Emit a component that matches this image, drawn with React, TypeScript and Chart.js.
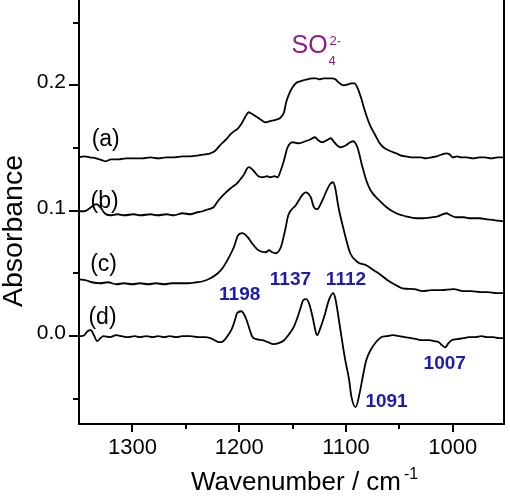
import { useEffect, useRef } from "react";
import { Chart, registerables } from "chart.js";

Chart.register(...registerables);

const FONT = "'Liberation Sans', Arial, sans-serif";

// Spectrum (a): wavenumber (cm-1) and absorbance
const wnA = [1350, 1345, 1340, 1334, 1328, 1325, 1320, 1313, 1306, 1298, 1291, 1283, 1276, 1268, 1261, 1253, 1246, 1238, 1232, 1227, 1223, 1218, 1212, 1208, 1205, 1201, 1197, 1194, 1191, 1189, 1186, 1183, 1179, 1175, 1172, 1168, 1164, 1161, 1158, 1156, 1153, 1150, 1147, 1143, 1140, 1136, 1132, 1128, 1125, 1121, 1117, 1113, 1110, 1106, 1102, 1098, 1095, 1092, 1089, 1086, 1083, 1080, 1077, 1073, 1069, 1065, 1062, 1058, 1053, 1049, 1044, 1039, 1034, 1030, 1025, 1020, 1015, 1010, 1006, 1003, 1000, 996, 992, 987, 981, 975, 970, 964, 958, 953, 950];
const absA = [0.1426, 0.1434, 0.1426, 0.1418, 0.1402, 0.1394, 0.141, 0.141, 0.1418, 0.1418, 0.1418, 0.1426, 0.1418, 0.1426, 0.1426, 0.1434, 0.1434, 0.1442, 0.145, 0.1458, 0.1474, 0.1522, 0.157, 0.161, 0.1633, 0.1657, 0.1705, 0.1753, 0.1785, 0.1777, 0.1761, 0.1745, 0.1721, 0.1705, 0.1713, 0.1721, 0.1729, 0.1745, 0.1785, 0.1865, 0.1936, 0.1984, 0.2016, 0.2032, 0.204, 0.2048, 0.2056, 0.2056, 0.2048, 0.2056, 0.2056, 0.2056, 0.2048, 0.2016, 0.2, 0.2008, 0.2016, 0.2016, 0.1976, 0.1904, 0.1817, 0.1737, 0.1673, 0.161, 0.1546, 0.1506, 0.149, 0.1474, 0.1458, 0.1442, 0.1434, 0.1426, 0.1426, 0.1426, 0.1418, 0.1426, 0.1434, 0.145, 0.1458, 0.145, 0.1426, 0.1434, 0.1426, 0.1426, 0.1418, 0.1426, 0.1426, 0.1418, 0.1426, 0.1426, 0.1426];

// Spectrum (b)
const wnB = [1350, 1345, 1340, 1334, 1330, 1326, 1321, 1314, 1307, 1299, 1292, 1283, 1276, 1268, 1261, 1253, 1246, 1239, 1234, 1229, 1224, 1220, 1215, 1208, 1202, 1196, 1191, 1187, 1182, 1178, 1174, 1171, 1167, 1164, 1161, 1158, 1155, 1150, 1144, 1138, 1133, 1129, 1126, 1122, 1118, 1114, 1111, 1105, 1100, 1096, 1093, 1089, 1085, 1081, 1077, 1069, 1062, 1053, 1044, 1034, 1028, 1020, 1014, 1006, 1002, 997, 990, 983, 975, 968, 960, 952, 950];
const absB = [0.0996, 0.0996, 0.102, 0.1052, 0.1028, 0.098, 0.0964, 0.0972, 0.0964, 0.0972, 0.0964, 0.0972, 0.0964, 0.0972, 0.0964, 0.098, 0.0972, 0.0988, 0.0996, 0.1012, 0.1028, 0.1076, 0.1124, 0.1179, 0.1219, 0.1283, 0.1347, 0.1323, 0.1275, 0.1267, 0.1275, 0.1267, 0.1275, 0.1267, 0.1323, 0.1402, 0.1498, 0.1546, 0.1538, 0.1554, 0.157, 0.1586, 0.1562, 0.1546, 0.1562, 0.1578, 0.1546, 0.1506, 0.1522, 0.1546, 0.1554, 0.1498, 0.1363, 0.1243, 0.1163, 0.1084, 0.1028, 0.098, 0.0956, 0.094, 0.094, 0.0948, 0.0956, 0.098, 0.0964, 0.0948, 0.0948, 0.094, 0.094, 0.0932, 0.0924, 0.0916, 0.0916];

// Spectrum (c)
const wnC = [1350, 1344, 1338, 1330, 1323, 1315, 1308, 1300, 1293, 1285, 1278, 1270, 1263, 1255, 1248, 1240, 1234, 1227, 1220, 1215, 1210, 1205, 1201, 1197, 1192, 1188, 1182, 1175, 1172, 1169, 1166, 1161, 1157, 1154, 1147, 1141, 1138, 1133, 1130, 1127, 1122, 1118, 1115, 1112, 1110, 1107, 1102, 1096, 1089, 1081, 1074, 1067, 1061, 1053, 1047, 1036, 1028, 1020, 1011, 999, 990, 983, 973, 967, 959, 952, 950];
const absC = [0.0454, 0.0446, 0.043, 0.0422, 0.043, 0.0414, 0.0422, 0.0414, 0.0422, 0.0414, 0.0422, 0.0414, 0.0422, 0.0422, 0.0422, 0.043, 0.0438, 0.0462, 0.0502, 0.055, 0.0622, 0.0709, 0.0805, 0.0821, 0.0789, 0.0741, 0.0685, 0.0669, 0.0685, 0.0669, 0.0661, 0.0709, 0.0845, 0.0964, 0.1044, 0.1124, 0.1147, 0.1108, 0.1028, 0.1012, 0.1084, 0.1163, 0.1211, 0.1227, 0.1179, 0.1028, 0.0845, 0.0661, 0.059, 0.0566, 0.0526, 0.0486, 0.0446, 0.0406, 0.0382, 0.0375, 0.0359, 0.0367, 0.0367, 0.0375, 0.0359, 0.0359, 0.0351, 0.0351, 0.0343, 0.0343, 0.0343];

// Spectrum (d): difference spectrum with the labelled bands
const wnD = [1350, 1345, 1342, 1339, 1336, 1333, 1330, 1327, 1321, 1315, 1310, 1304, 1298, 1293, 1287, 1281, 1276, 1270, 1265, 1259, 1253, 1246, 1238, 1232, 1227, 1223, 1219, 1215, 1211, 1207, 1204, 1202, 1198, 1196, 1193, 1190, 1188, 1184, 1178, 1173, 1168, 1163, 1158, 1154, 1149, 1145, 1142, 1140, 1137, 1134, 1131, 1128, 1127, 1124, 1120, 1116, 1112, 1110, 1107, 1104, 1101, 1097, 1095, 1091, 1087, 1084, 1081, 1077, 1072, 1067, 1062, 1056, 1050, 1045, 1039, 1034, 1028, 1022, 1017, 1013, 1010, 1007, 1004, 1001, 996, 990, 985, 979, 973, 968, 962, 957, 950];
const absD = [0, 0.0008, 0.004, 0.0048, 0.0008, -0.004, -0.0016, 0, -0.0008, 0.0008, 0, -0.0008, 0, -0.0008, 0, -0.0008, 0, -0.0008, 0, -0.0008, 0, 0, -0.0008, -0.0008, -0.0016, -0.0032, -0.0048, -0.004, 0, 0.0056, 0.0127, 0.0183, 0.0199, 0.0183, 0.0127, 0.0048, 0, -0.0024, -0.0032, -0.0048, -0.0064, -0.0056, -0.0032, 0.0008, 0.0072, 0.0159, 0.0239, 0.0287, 0.0295, 0.0247, 0.0143, 0.0024, 0.0008, 0.0064, 0.0167, 0.0287, 0.0343, 0.0303, 0.0151, -0.0016, -0.0175, -0.0351, -0.0478, -0.0566, -0.0446, -0.0311, -0.0191, -0.0112, -0.0048, -0.0008, 0, 0.0008, 0, -0.0008, -0.0016, -0.0024, -0.0032, -0.0032, -0.004, -0.0048, -0.0072, -0.0088, -0.0056, -0.0032, -0.0024, -0.0016, -0.0008, -0.0008, 0, -0.0008, -0.0008, -0.0016, -0.0016];

// Axis ticks
const xTickValues = [1300, 1200, 1100, 1000];
const xMinorTicks = [1250, 1150, 1050];
const yTickValues = [0, 0.1, 0.2];
const yMinorTicks = [-0.05, 0.05, 0.15, 0.25];

// Curve labels placed in data units
const traceLabels = ["(a)", "(b)", "(c)", "(d)"];
const traceLabelWn = [1325, 1326, 1327, 1328];
const traceLabelAbs = [0.157, 0.1076, 0.0574, 0.0151];

// Band positions marked on spectrum (d)
const peakLabels = ["1198", "1137", "1112", "1091", "1007"];
const peakLabelWn = [1199.5, 1152, 1100, 1062, 1007.5];
const peakLabelAbs = [0.0327, 0.0446, 0.0446, -0.0526, -0.0223];

// Sulfate annotation anchor (left edge of "SO", baseline)
const sulfateWn = 1151;
const sulfateAbs = 0.2255;

const toPoints = (wn: number[], abs: number[]) => wn.map((x, i) => ({ x, y: abs[i] }));

const decorations = {
  id: "decorations",
  afterDraw(chart: any) {
    const { ctx, chartArea: area, scales } = chart;
    const xs = scales.x;
    const ys = scales.y;
    ctx.save();
    ctx.strokeStyle = "#000";
    ctx.lineWidth = 2;
    const seg = (x1: number, y1: number, x2: number, y2: number) => {
      ctx.beginPath();
      ctx.moveTo(x1, y1);
      ctx.lineTo(x2, y2);
      ctx.stroke();
    };
    // right frame line
    seg(area.right, area.top, area.right, area.bottom + 1);
    // tick marks (outside the frame)
    yTickValues.forEach((v) => {
      const y = Math.round(ys.getPixelForValue(v));
      seg(area.left - 10, y, area.left, y);
    });
    yMinorTicks.forEach((v) => {
      const y = Math.round(ys.getPixelForValue(v));
      seg(area.left - 6, y, area.left, y);
    });
    xTickValues.forEach((v) => {
      const x = Math.round(xs.getPixelForValue(v));
      seg(x, area.bottom, x, area.bottom + 8);
    });
    xMinorTicks.forEach((v) => {
      const x = Math.round(xs.getPixelForValue(v));
      seg(x, area.bottom, x, area.bottom + 5);
    });

    ctx.fillStyle = "#000";
    // y axis title
    ctx.save();
    ctx.translate(22, 231);
    ctx.rotate(-Math.PI / 2);
    ctx.font = `28.5px ${FONT}`;
    ctx.textAlign = "center";
    ctx.textBaseline = "alphabetic";
    ctx.fillText("Absorbance", 0, 0);
    ctx.restore();

    // x axis title with superscript
    ctx.textAlign = "left";
    ctx.textBaseline = "alphabetic";
    ctx.font = `26px ${FONT}`;
    const tx = area.left + 112;
    const ty = area.bottom + 66;
    ctx.fillText("Wavenumber / cm", tx, ty);
    const tw = ctx.measureText("Wavenumber / cm").width;
    ctx.font = `16px ${FONT}`;
    ctx.fillText("-1", tx + tw + 3, ty - 11);

    // curve labels
    ctx.font = `23px ${FONT}`;
    ctx.textAlign = "center";
    ctx.textBaseline = "middle";
    traceLabels.forEach((t, i) => {
      ctx.fillText(t, xs.getPixelForValue(traceLabelWn[i]), ys.getPixelForValue(traceLabelAbs[i]));
    });

    // band labels
    ctx.fillStyle = "#1c1cad";
    ctx.font = `bold 19px ${FONT}`;
    peakLabels.forEach((t, i) => {
      ctx.fillText(t, xs.getPixelForValue(peakLabelWn[i]), ys.getPixelForValue(peakLabelAbs[i]));
    });

    // SO4 2- annotation
    ctx.fillStyle = "#8b1c8b";
    ctx.textAlign = "left";
    ctx.textBaseline = "alphabetic";
    const sx = xs.getPixelForValue(sulfateWn);
    const sy = ys.getPixelForValue(sulfateAbs);
    ctx.font = `25px ${FONT}`;
    ctx.fillText("SO", sx, sy);
    const sw = ctx.measureText("SO").width;
    ctx.font = `13px ${FONT}`;
    ctx.fillText("4", sx + sw + 1, sy + 12);
    ctx.fillText("2-", sx + sw + 2, sy - 8);
    ctx.restore();
  },
};

export default function App() {
  const ref = useRef<HTMLCanvasElement>(null);

  useEffect(() => {
    if (!ref.current) return;
    const series = [
      toPoints(wnA, absA),
      toPoints(wnB, absB),
      toPoints(wnC, absC),
      toPoints(wnD, absD),
    ];
    const chart = new Chart(ref.current, {
      type: "line",
      data: {
        datasets: series.map((data, i) => ({
          label: traceLabels[i],
          data,
          borderColor: "#000",
          borderWidth: 1.8,
          pointRadius: 0,
          fill: false,
          cubicInterpolationMode: "monotone" as const,
        })),
      },
      options: {
        responsive: false,
        animation: false,
        devicePixelRatio: 1,
        layout: { padding: { left: 0, right: 6, top: 0, bottom: 0 } },
        plugins: {
          legend: { display: false },
          tooltip: { enabled: false },
        },
        scales: {
          x: {
            type: "linear",
            reverse: true,
            min: 952,
            max: 1350,
            afterBuildTicks: (s: any) => {
              s.ticks = xTickValues.map((value) => ({ value }));
            },
            afterFit: (s: any) => {
              s.height = 78;
              s.paddingLeft = 0;
              s.paddingRight = 0;
            },
            grid: { display: false, drawTicks: false },
            border: { display: true, color: "#000", width: 2 },
            ticks: {
              color: "#000",
              font: { family: FONT, size: 22 },
              padding: 11,
              maxRotation: 0,
              autoSkip: false,
              callback: (v: any) => String(v),
            },
          },
          y: {
            type: "linear",
            min: -0.07,
            max: 0.268,
            afterBuildTicks: (s: any) => {
              s.ticks = yTickValues.map((value) => ({ value }));
            },
            afterFit: (s: any) => {
              s.width = 79;
              s.paddingTop = 0;
              s.paddingBottom = 0;
            },
            grid: { display: false, drawTicks: false },
            border: { display: true, color: "#000", width: 2 },
            ticks: {
              color: "#000",
              font: { family: FONT, size: 21 },
              padding: 13,
              labelOffset: -3,
              autoSkip: false,
              callback: (v: any) => Number(v).toFixed(1),
            },
          },
        },
      },
      plugins: [decorations],
    });
    return () => chart.destroy();
  }, []);

  return (
    <div style={{ position: "fixed", left: 0, top: 0, width: 510, height: 502, background: "#fff" }}>
      <canvas ref={ref} width={510} height={502} style={{ display: "block" }} />
    </div>
  );
}
